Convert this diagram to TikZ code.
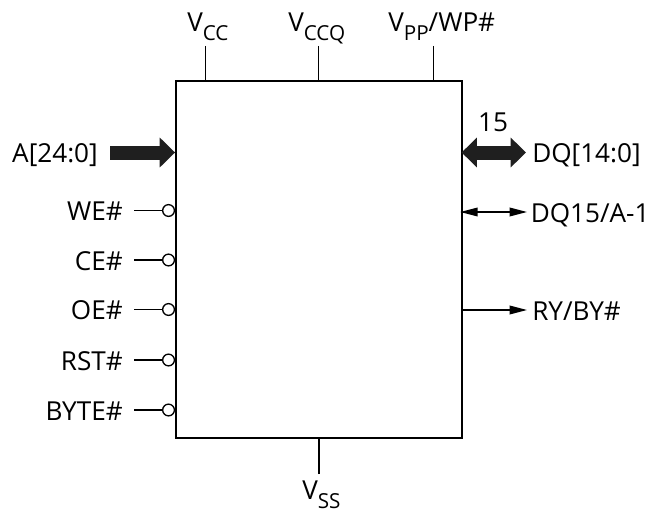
\documentclass[tikz,border=0pt]{standalone}
\usepackage{fontspec}
\setmainfont{Open Sans}
\usepackage{tikz}
\usetikzlibrary{arrows.meta}
\newcommand{\pinsub}[1]{\raisebox{-0.34em}{\fontsize{15.5}{15.5}\selectfont #1}}
\tikzset{
	pintext/.style={inner sep=0pt,font=\fontsize{19.6}{24}\selectfont},
	chipbox/.style={draw,line width=1.4pt,minimum width=214.5pt,minimum height=267.75pt,inner sep=0pt},
	pinline/.style={line width=1pt},
	bubble/.style={circle,draw,line width=1pt,fill=white,minimum size=8.8pt,inner sep=0pt},
	thinarrow/.style={line width=1pt,-{Triangle[length=13pt,width=6.5pt]}},
	thindouble/.style={line width=1pt,{Triangle[length=13pt,width=6.5pt]}-{Triangle[length=13pt,width=6.5pt]}},
	busarrow/.style={line width=10.5pt,-{Triangle[length=11.5pt,width=21.75pt]},color=black!88},
	busdouble/.style={line width=10.5pt,{Triangle[length=11.5pt,width=21.75pt]}-{Triangle[length=11.5pt,width=21.75pt]},color=black!88},
}
\begin{document}
\begin{tikzpicture}[x=0.75pt,y=0.75pt,yscale=-1,xscale=1]
		\useasboundingbox (0,0) rectangle (649,510);

		%Chip body
		\node [chipbox] (chip) at (319,259.5) {};

		% Text Node
		\node [pintext,anchor=base west] (vcc) at (187,32) {V\pinsub{CC}};
		% Text Node
		\node [pintext,anchor=base west] (vccq) at (288,32) {V\pinsub{CCQ}};
		% Text Node
		\node [pintext,anchor=base west] (vpp) at (388,32) {V\pinsub{PP}/WP\#};
		% Text Node
		\node [pintext,anchor=base west] (vss) at (302,499.5) {V\pinsub{SS}};
		% Text Node
		\node [pintext,anchor=base east] (addr) at (98,162) {A[24:0]};
		% Text Node
		\node [pintext,anchor=base east] (we) at (123,220) {WE\#};
		% Text Node
		\node [pintext,anchor=base east] (ce) at (123,270) {CE\#};
		% Text Node
		\node [pintext,anchor=base east] (oe) at (123,319) {OE\#};
		% Text Node
		\node [pintext,anchor=base east] (rst) at (123,370) {RST\#};
		% Text Node
		\node [pintext,anchor=base east] (byte) at (123,420) {BYTE\#};
		% Text Node
		\node [pintext,anchor=base] (width) at (493,131) {15};
		% Text Node
		\node [pintext,anchor=base west] (dq) at (532,162) {DQ[14:0]};
		% Text Node
		\node [pintext,anchor=base west] (dqa) at (530.5,222) {DQ15/A-1};
		% Text Node
		\node [pintext,anchor=base west] (ry) at (532,320) {RY/BY\#};

		%Supply pins
		\coordinate (vcct) at (205.5,46);
		\coordinate (vccqt) at (318.5,46);
		\coordinate (vppt) at (433.5,46);
		\coordinate (vsst) at (319,474);
		\draw [pinline] (vcct) -- (vcct |- chip.north);
		\draw [pinline] (vccqt) -- (vccqt |- chip.north);
		\draw [pinline] (vppt) -- (vppt |- chip.north);
		\draw [pinline] (vsst) -- (vsst |- chip.south);

		%Active low inputs
		\coordinate (wet) at (134,210.5);
		\coordinate (cet) at (134,260);
		\coordinate (oet) at (134,309.5);
		\coordinate (rstt) at (134,360);
		\coordinate (bytet) at (134,410);
		\node [bubble,anchor=east] (webub) at (wet -| chip.west) {};
		\node [bubble,anchor=east] (cebub) at (cet -| chip.west) {};
		\node [bubble,anchor=east] (oebub) at (oet -| chip.west) {};
		\node [bubble,anchor=east] (rstbub) at (rstt -| chip.west) {};
		\node [bubble,anchor=east] (bytebub) at (bytet -| chip.west) {};
		\draw [pinline] (wet) -- (webub);
		\draw [pinline] (cet) -- (cebub);
		\draw [pinline] (oet) -- (oebub);
		\draw [pinline] (rstt) -- (rstbub);
		\draw [pinline] (bytet) -- (bytebub);

		%Buses and outputs
		\coordinate (addrt) at (110,152.5);
		\coordinate (dqt) at (526,152.5);
		\coordinate (dqat) at (527,212);
		\coordinate (ryt) at (527,310);
		\draw [busarrow] (addrt) -- (addrt -| chip.west);
		\draw [busdouble,shorten <=-1pt] (dqt -| chip.east) -- (dqt);
		\draw [thindouble,shorten <=-2pt] (dqat -| chip.east) -- (dqat);
		\draw [thinarrow] (ryt -| chip.east) -- (ryt);

		\end{tikzpicture}
\end{document}
